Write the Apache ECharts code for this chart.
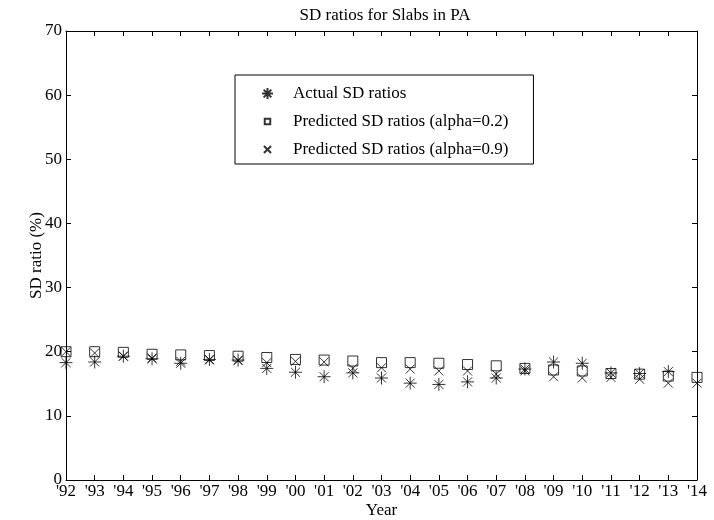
<!DOCTYPE html>
<html>
<head>
<meta charset="utf-8">
<script src="https://cdn.jsdelivr.net/npm/echarts@6/dist/echarts.min.js"></script>
<style>html,body{margin:0;padding:0;background:#fff}#c{width:714px;height:520px}</style>
</head>
<body>
<div id="c"></div>
<script>
var years = [1992,1993,1994,1995,1996,1997,1998,1999,2000,2001,2002,2003,2004,2005,2006,2007,2008,2009,2010,2011,2012,2013,2014];
var actualSD = [18.3,18.4,19.3,18.9,18.2,18.8,18.7,17.4,16.8,16.1,16.7,15.9,15.1,14.9,15.3,15.9,17.3,18.4,18.2,16.7,16.6,16.9,null];
var predAlpha02 = [20.0,20.0,19.9,19.6,19.5,19.4,19.3,19.1,18.8,18.7,18.55,18.3,18.3,18.2,18.0,17.8,17.4,17.15,17.0,16.6,16.5,16.2,16.0];
var predAlpha09 = [20.0,19.8,19.3,19.0,18.5,18.7,18.6,18.3,18.5,18.4,17.4,17.5,17.3,17.0,17.0,16.5,17.0,16.1,15.9,16.0,15.7,15.1,15.1];
var seriesNames = ['Actual SD ratios','Predicted SD ratios (alpha=0.2)','Predicted SD ratios (alpha=0.9)'];

function pairs(arr){ return years.map(function(y,i){ return [y, arr[i]]; }); }

var FONT = 'Liberation Serif';
var starPath = 'path://M0,5L10,5M5,0L5,10M1.5,1.5L8.5,8.5M8.5,1.5L1.5,8.5';
var xPath = 'path://M0,0L10,10M10,0L0,10';
var legendSquare = 'path://M0,0L0,0M3.5,3.5L10.5,3.5L10.5,10.5L3.5,10.5ZM14,14L14,14';
var legendX = 'path://M0,0L0,0M2.5,2.5L11.5,11.5M11.5,2.5L2.5,11.5M14,14L14,14';
var markerStyle = {color:'rgba(0,0,0,0)', borderColor:'#000', borderWidth:1};

var chart = echarts.init(document.getElementById('c'), null, {renderer:'canvas'});
var yrFmt = function(v){ return "'" + String(v).slice(2); };
chart.setOption({
  animation:false,
  title:{text:'SD ratios for Slabs in PA', left:380, textAlign:'center', top:2,
    textStyle:{fontFamily:FONT, fontSize:17, fontWeight:'normal', color:'#000'}},
  grid:{left:66, right:17, top:31, bottom:40, outerBoundsMode:'none', containLabel:false},
  legend:{
    orient:'vertical', left:235, top:75,
    padding:[10,25,6,26], itemGap:11, itemWidth:11, itemHeight:11,
    borderColor:'#000', borderWidth:1, backgroundColor:'#fff',
    textStyle:{fontFamily:FONT, fontSize:17, color:'#000', padding:[0,0,0,15]},
    data:[{name:seriesNames[0]},{name:seriesNames[1], icon:legendSquare},{name:seriesNames[2], icon:legendX}]
  },
  xAxis:[{
    type:'value', min:1992, max:2014, interval:1,
    name:'Year', nameLocation:'middle', nameGap:22, nameMoveOverlap:false,
    nameTextStyle:{fontFamily:FONT, fontSize:17, color:'#000'},
    axisLine:{onZero:false, lineStyle:{color:'#000', width:1}},
    axisTick:{inside:true, length:5, lineStyle:{color:'#000'}},
    axisLabel:{fontFamily:FONT, fontSize:17, color:'#000', margin:3, formatter:yrFmt},
    splitLine:{show:false}
  },{
    type:'value', position:'top', min:1992, max:2014, interval:1,
    axisLine:{onZero:false, lineStyle:{color:'#000', width:1}},
    axisTick:{inside:true, length:5, lineStyle:{color:'#000'}},
    axisLabel:{show:false}, splitLine:{show:false}
  }],
  yAxis:[{
    type:'value', min:0, max:70, interval:10,
    name:'SD ratio (%)', nameLocation:'middle', nameGap:21, nameRotate:90, nameMoveOverlap:false,
    nameTextStyle:{fontFamily:FONT, fontSize:17, color:'#000'},
    axisLine:{show:true, onZero:false, lineStyle:{color:'#000', width:1}},
    axisTick:{show:true, inside:true, length:5, lineStyle:{color:'#000'}},
    axisLabel:{fontFamily:FONT, fontSize:17, color:'#000', margin:4},
    splitLine:{show:false}
  },{
    type:'value', position:'right', min:0, max:70, interval:10,
    axisLine:{show:true, onZero:false, lineStyle:{color:'#000', width:1}},
    axisTick:{show:true, inside:true, length:5, lineStyle:{color:'#000'}},
    axisLabel:{show:false}, splitLine:{show:false}
  }],
  series:[
    {name:seriesNames[0], type:'scatter', symbol:starPath, symbolSize:13, itemStyle:markerStyle, data:pairs(actualSD), z:3},
    {name:seriesNames[1], type:'scatter', symbol:'rect', symbolSize:10, itemStyle:markerStyle, data:pairs(predAlpha02), z:2},
    {name:seriesNames[2], type:'scatter', symbol:xPath, symbolSize:9, itemStyle:markerStyle, data:pairs(predAlpha09), z:2}
  ]
});
</script>
</body>
</html>
